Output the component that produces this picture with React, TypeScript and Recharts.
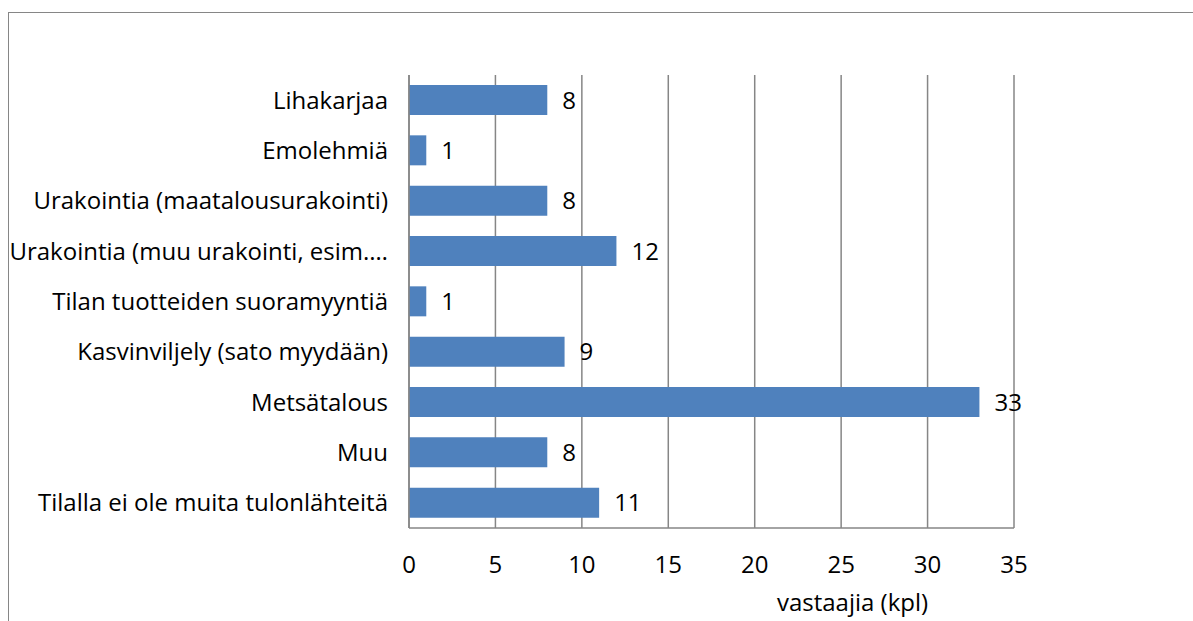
import { BarChart, Bar, XAxis, YAxis, CartesianGrid, LabelList, Label } from 'recharts'

const CATEGORIES = [
  'Lihakarjaa',
  'Emolehmiä',
  'Urakointia (maatalousurakointi)',
  'Urakointia (muu urakointi, esim.…',
  'Tilan tuotteiden suoramyyntiä',
  'Kasvinviljely (sato myydään)',
  'Metsätalous',
  'Muu',
  'Tilalla ei ole muita tulonlähteitä',
]
const VALUES = [8, 1, 8, 12, 1, 9, 33, 8, 11]
const X_TICKS = [0, 5, 10, 15, 20, 25, 30, 35]

const data = CATEGORIES.map((name, i) => ({ name, value: VALUES[i] }))

const FONT = '"Open Sans", sans-serif'
const FS = 24
const GREY = '#868686'

export default function App() {
  return (
    <div style={{ position: 'absolute', left: 0, top: 0, width: 1193, height: 621, background: '#fff', fontFamily: FONT, overflow: 'hidden' }}>
      {/* frame, only top and left edges visible */}
      <div style={{ position: 'absolute', left: 8, top: 12, width: 1300, height: 700, border: `1.5px solid ${GREY}`, boxSizing: 'border-box' }} />
      <div style={{ position: 'absolute', left: 0, top: 0 }}>
        <BarChart
          layout="vertical"
          width={1193}
          height={621}
          data={data}
          margin={{ top: 75, right: 179, bottom: 33, left: 9 }}
        >
          <CartesianGrid horizontal={false} stroke={GREY} strokeWidth={1.5} />
          <XAxis
            type="number"
            domain={[0, 35]}
            ticks={X_TICKS}
            interval={0}
            height={60}
            axisLine={{ stroke: GREY, strokeWidth: 1.5 }}
            tickLine={false}
            tickMargin={22}
            tick={{ fill: '#000', fontSize: FS, fontFamily: FONT }}
          >
            <Label
              value="vastaajia (kpl)"
              position="bottom"
              offset={6}
              dx={141}
              style={{ fill: '#000', fontSize: FS, fontFamily: FONT }}
            />
          </XAxis>
          <YAxis
            type="category"
            dataKey="name"
            width={400}
            interval={0}
            axisLine={{ stroke: GREY, strokeWidth: 1.5 }}
            tickLine={false}
            tickMargin={15}
            tick={{ fill: '#000', fontSize: FS, fontFamily: FONT }}
          />
          <Bar dataKey="value" fill="#4F81BD" barSize={30} isAnimationActive={false}>
            <LabelList dataKey="value" position="right" offset={15} style={{ fill: '#000', fontSize: FS, fontFamily: FONT }} />
          </Bar>
        </BarChart>
      </div>
    </div>
  )
}
